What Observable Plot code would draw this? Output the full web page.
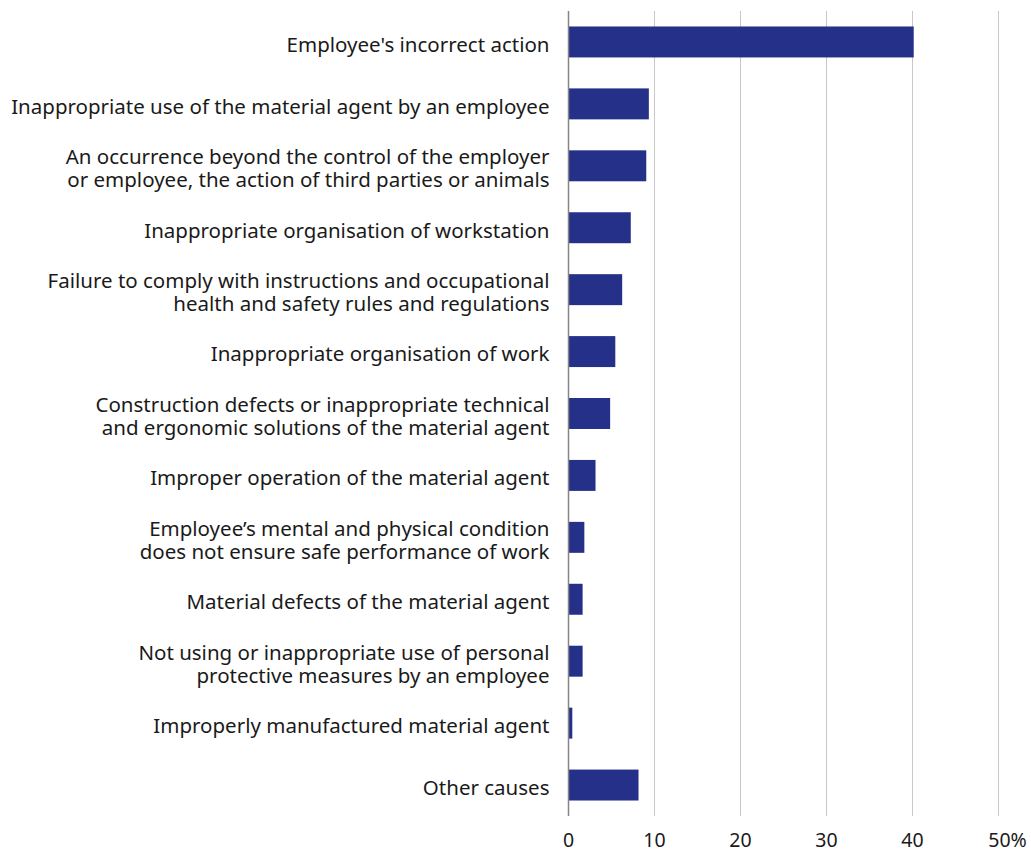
<!DOCTYPE html>
<html>
<head>
<meta charset="utf-8">
<script src="https://cdn.jsdelivr.net/npm/d3@7"></script>
<script src="https://cdn.jsdelivr.net/npm/@observablehq/plot@0.6"></script>
<style>
  html, body { margin: 0; padding: 0; background: #fff; }
  #chart svg { display: block; }
</style>
</head>
<body>
<div id="chart"></div>
<script>
const categories = [
  "Employee's incorrect action",
  "Inappropriate use of the material agent by an employee",
  "An occurrence beyond the control of the employer\nor employee, the action of third parties or animals",
  "Inappropriate organisation of workstation",
  "Failure to comply with instructions and occupational\nhealth and safety rules and regulations",
  "Inappropriate organisation of work",
  "Construction defects or inappropriate technical\nand ergonomic solutions of the material agent",
  "Improper operation of the material agent",
  "Employee’s mental and physical condition\ndoes not ensure safe performance of work",
  "Material defects of the material agent",
  "Not using or inappropriate use of personal\nprotective measures by an employee",
  "Improperly manufactured material agent",
  "Other causes"
];
const values = [40.2, 9.4, 9.1, 7.3, 6.3, 5.5, 4.9, 3.2, 1.9, 1.7, 1.7, 0.5, 8.2];
const xTicks = [0, 10, 20, 30, 40];
const xLastTick = [50];

const data = categories.map((c, i) => ({category: c, value: values[i]}));

const chart = Plot.plot({
  width: 1031,
  height: 852,
  marginLeft: 568,
  marginRight: 33,
  marginTop: 11,
  marginBottom: 36,
  style: {fontFamily: "'Noto Sans', sans-serif", color: "#1a1a1a", background: "#fff"},
  x: {domain: [0, 50]},
  y: {domain: categories, paddingInner: 0.5, paddingOuter: 0.25, round: false},
  marks: [
    Plot.gridX([10, 20, 30, 40, 50], {stroke: "#c8c8c8", strokeOpacity: 1, strokeWidth: 1}),
    Plot.barX(data, {x: "value", y: "category", fill: "#253189"}),
    Plot.ruleX([0], {stroke: "#858585", strokeWidth: 1.5}),
    Plot.axisY({tickSize: 0, tickPadding: 19, fontSize: 20.5, lineHeight: 1.12, label: null, textAnchor: "end", fill: "#1a1a1a", dy: 2}),
    Plot.axisX(xTicks, {tickSize: 0, tickPadding: 17, fontSize: 19.5, label: null, fill: "#1a1a1a"}),
    Plot.axisX(xLastTick, {tickSize: 0, tickPadding: 17, fontSize: 19.5, label: null, fill: "#1a1a1a", tickFormat: d => d + "%", dx: 9})
  ]
});
document.getElementById("chart").appendChild(chart);
</script>
</body>
</html>
